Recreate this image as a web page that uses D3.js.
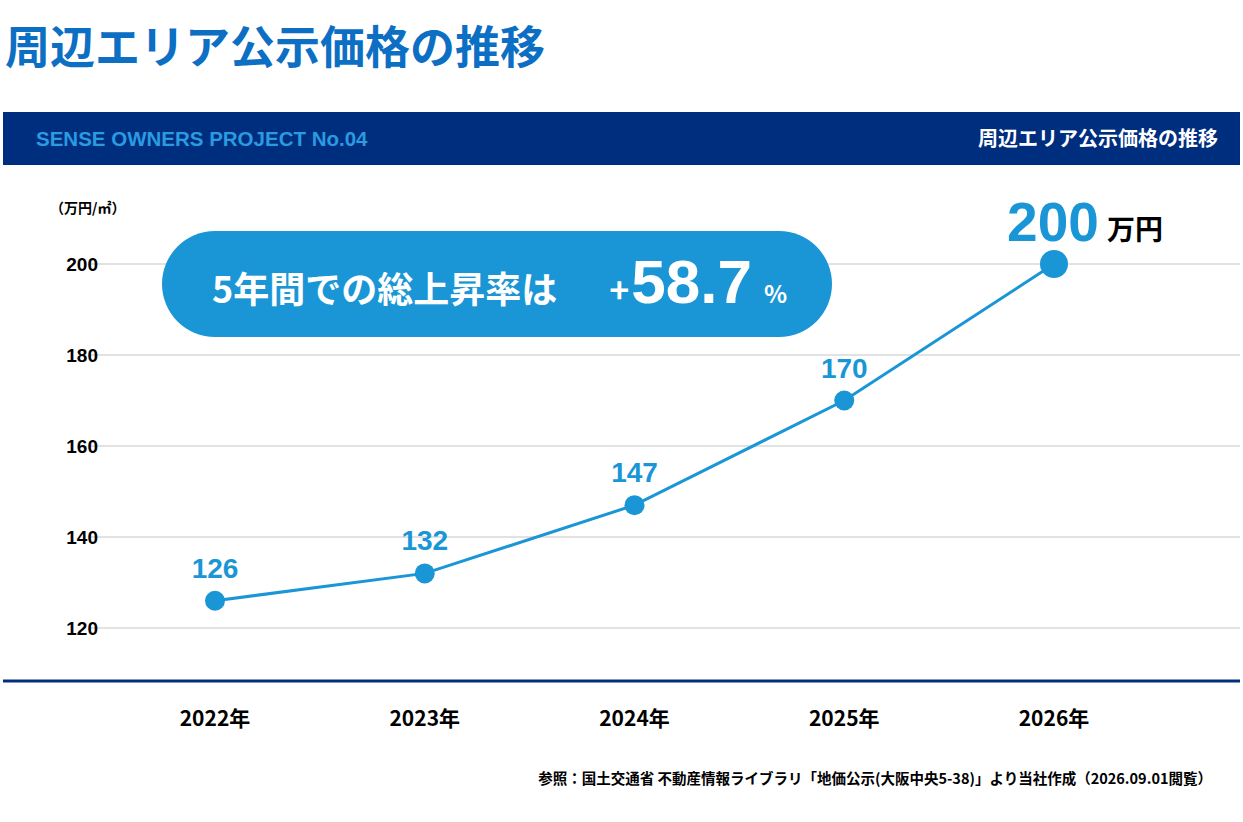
<!DOCTYPE html><html><head><meta charset="utf-8"><script src="https://cdn.jsdelivr.net/npm/d3@7"></script>
<style>body{margin:0;background:#fff}svg{font-family:"Noto Sans CJK JP","Liberation Sans",sans-serif}</style></head><body><svg id="c" width="1243" height="822"></svg>
<script>
const years=["2022年","2023年","2024年","2025年","2026年"];
const values=[126,132,147,170,200];
const yTicks=[120,140,160,180,200];
const svg=d3.select("#c");
const blue="#1a96d6", navy="#002e7f";
svg.append("text").attr("x",5).attr("y",64).attr("font-size",45).attr("font-weight",700).attr("fill","#0c6fc4").text("周辺エリア公示価格の推移");
svg.append("rect").attr("x",3).attr("y",112).attr("width",1237).attr("height",53).attr("fill",navy);
svg.append("text").attr("x",36).attr("y",146).attr("font-size",20.5).attr("font-weight",700).attr("fill","#2a9be0").attr("font-family","Liberation Sans").text("SENSE OWNERS PROJECT No.04");
svg.append("text").attr("x",1218).attr("y",146).attr("text-anchor","end").attr("font-size",20).attr("font-weight",700).attr("fill","#fff").text("周辺エリア公示価格の推移");
const x=d3.scalePoint().domain(years).range([215,1054]);
const y=d3.scaleLinear().domain([120,200]).range([628,264]);
svg.append("g").selectAll("line").data(yTicks).join("line").attr("x1",90).attr("x2",1240).attr("y1",d=>y(d)).attr("y2",d=>y(d)).attr("stroke","#d8d8d8").attr("stroke-width",1.5);
svg.append("g").selectAll("text").data(yTicks).join("text").attr("x",98).attr("y",d=>y(d)+7).attr("text-anchor","end").attr("font-size",19).attr("font-weight",700).attr("font-family","Liberation Sans").text(d=>d);
svg.append("text").attr("x",50).attr("y",213).attr("font-size",14).attr("font-weight",700).text("（万円/㎡）");
svg.append("line").attr("x1",3).attr("x2",1240).attr("y1",681).attr("y2",681).attr("stroke",navy).attr("stroke-width",3);
svg.append("g").selectAll("text").data(years).join("text").attr("x",d=>x(d)).attr("y",726).attr("text-anchor","middle").attr("font-size",21).attr("font-weight",700).text(d=>d);
const pts=years.map((d,i)=>[x(d),y(values[i])]);
svg.append("path").attr("d",d3.line()(pts)).attr("fill","none").attr("stroke",blue).attr("stroke-width",3);
svg.append("g").selectAll("circle").data(pts).join("circle").attr("cx",d=>d[0]).attr("cy",d=>d[1]).attr("r",(d,i)=>i==4?14:10).attr("fill",blue);
svg.append("g").selectAll("text").data(values.slice(0,4)).join("text").attr("x",(d,i)=>pts[i][0]).attr("y",(d,i)=>pts[i][1]-23).attr("text-anchor","middle").attr("font-size",28).attr("font-weight",700).attr("fill",blue).attr("font-family","Liberation Sans").text(d=>d);
svg.append("text").attr("x",1053).attr("y",241).attr("text-anchor","middle").attr("font-size",55).attr("font-weight",700).attr("fill",blue).attr("font-family","Liberation Sans").text(values[4]);
svg.append("text").attr("x",1107).attr("y",240).attr("font-size",28).attr("font-weight",700).text("万円");
svg.append("rect").attr("x",162).attr("y",231).attr("width",670).attr("height",106).attr("rx",53).attr("fill",blue);
const t=svg.append("text").attr("x",212).attr("y",303).attr("fill","#fff").attr("font-weight",700);
t.append("tspan").attr("font-size",36).text("5年間での総上昇率は");
t.append("tspan").attr("font-size",34).attr("dx",52).text("+");
t.append("tspan").attr("font-size",62).attr("dx",2).attr("font-family","Liberation Sans").text("58.7");
t.append("tspan").attr("font-size",24).attr("dx",12).text("%");
svg.append("text").attr("x",1212).attr("y",784).attr("text-anchor","end").attr("font-size",14.5).attr("font-weight",700).text("参照：国土交通省 不動産情報ライブラリ「地価公示(大阪中央5-38)」より当社作成（2026.09.01閲覧）");
</script></body></html>
